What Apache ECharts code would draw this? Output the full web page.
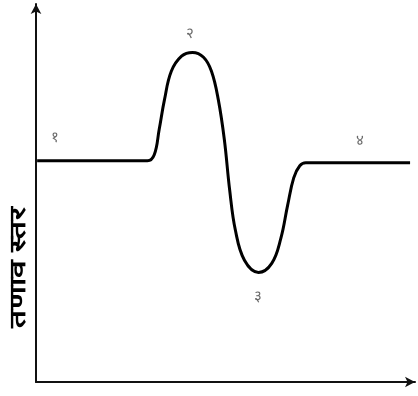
<!DOCTYPE html>
<html>
<head>
<meta charset="utf-8">
<script src="https://cdn.jsdelivr.net/npm/echarts@6/dist/echarts.min.js"></script>
<style>html,body{margin:0;padding:0;background:#fff;}#c{width:418px;height:396px;}</style>
</head>
<body>
<div id="c"></div>
<script>
// Curve points (arbitrary 0-100 units)
const curveX = [0.3, 29.4, 31.2, 32.5, 33.9, 35.7, 38.4, 41.3, 44.2, 46.3, 48.1, 49.7, 51.1, 52.6, 55.0, 58.7, 62.2, 64.6, 66.4, 68.0, 69.6, 71.2, 98.7];
const curveY = [58.5, 58.5, 60.1, 66.8, 74.7, 82.2, 86.2, 87.2, 85.9, 82.2, 74.7, 64.1, 50.8, 40.2, 32.2, 29.0, 31.4, 38.0, 46.8, 54.0, 57.2, 58.0, 58.0];
// Stage labels
const stageText = ['१', '२', '३', '४'];
const stageX = [5.0, 40.7, 58.5, 85.5];
const stageY = [64.6, 92.0, 22.6, 63.8];
const yAxisTitle = 'तणाव स्तर';

const chart = echarts.init(document.getElementById('c'));
chart.setOption({
  animation: false,
  grid: {left: 36, right: 3, top: 4, bottom: 14, outerBoundsMode: 'none', containLabel: false},
  graphic: [{
    type: 'text', left: 8, top: 207,
    rotation: Math.PI / 2, scaleX: 1.44, originX: 0, originY: 0,
    style: {text: yAxisTitle, font: 'bold 22px sans-serif', fill: '#000'}
  }],
  xAxis: {
    type: 'value', min: 0, max: 100,
    axisLine: {show: true, lineStyle: {color: '#111', width: 2}, symbol: ['none', 'arrow'], symbolSize: [8, 10]},
    axisTick: {show: false}, axisLabel: {show: false}, splitLine: {show: false}
  },
  yAxis: {
    type: 'value', min: 0, max: 100,
    axisLine: {show: true, lineStyle: {color: '#111', width: 2}, symbol: ['none', 'arrow'], symbolSize: [8, 10]},
    axisTick: {show: false}, axisLabel: {show: false}, splitLine: {show: false}
  },
  series: [
    {
      type: 'line', smooth: 0.4, symbol: 'none',
      lineStyle: {color: '#000', width: 3},
      data: curveX.map((x, i) => [x, curveY[i]])
    },
    {
      type: 'scatter', symbolSize: 0,
      label: {show: true, position: 'inside', formatter: p => p.data[2], color: '#444', fontSize: 15},
      data: stageX.map((x, i) => [x, stageY[i], stageText[i]])
    }
  ]
});
</script>
</body>
</html>
